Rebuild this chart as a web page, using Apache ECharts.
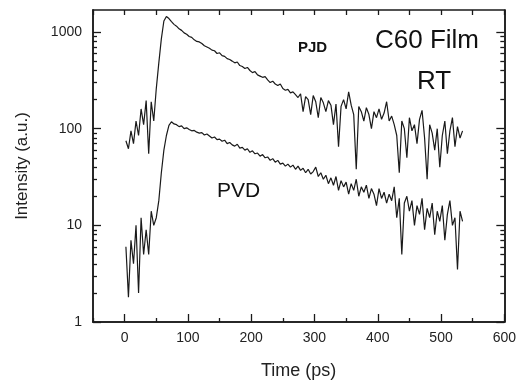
<!DOCTYPE html>
<html>
<head>
<meta charset="utf-8">
<script src="https://cdn.jsdelivr.net/npm/echarts@6/dist/echarts.min.js"></script>
<style>
  html, body { margin: 0; padding: 0; background: #fff; }
  #main { width: 519px; height: 385px; }
</style>
</head>
<body>
<div id="main"></div>
<script>
// sample times (ps), one reading every 4 ps
var timePs = [
  2, 6, 10, 14, 18, 22, 26, 30, 34, 38, 42, 46, 50, 54, 58, 62, 66, 70, 74, 78, 82, 86, 90, 94, 98,
  102, 106, 110, 114, 118, 122, 126, 130, 134, 138, 142, 146, 150, 154, 158, 162, 166, 170, 174, 178, 182, 186, 190, 194, 198,
  202, 206, 210, 214, 218, 222, 226, 230, 234, 238, 242, 246, 250, 254, 258, 262, 266, 270, 274, 278, 282, 286, 290, 294, 298,
  302, 306, 310, 314, 318, 322, 326, 330, 334, 338, 342, 346, 350, 354, 358, 362, 366, 370, 374, 378, 382, 386, 390, 394, 398,
  402, 406, 410, 414, 418, 422, 426, 430, 434, 438, 442, 446, 450, 454, 458, 462, 466, 470, 474, 478, 482, 486, 490, 494, 498,
  502, 506, 510, 514, 518, 522, 526, 530, 534
];

// PJD film (upper trace)
var pjdIntensity = [
  75, 62, 95, 70, 120, 85, 160, 110, 195, 55, 190, 120, 260, 480, 850, 1300, 1450, 1380, 1280, 1200, 1150, 1080, 1040, 980, 950,
  900, 880, 830, 800, 790, 760, 720, 700, 680, 650, 640, 600, 610, 570, 560, 530, 520, 500, 480, 490, 450, 440, 420, 430, 400,
  380, 390, 360, 350, 340, 345, 320, 300, 310, 290, 280, 290, 260, 250, 255, 235, 240, 225, 210, 230, 150, 215, 200, 140, 220,
  190, 130, 210, 185, 150, 195, 175, 110, 180, 65, 170, 200, 160, 240, 175, 140, 38, 170, 150, 120, 165, 140, 100, 150, 130,
  160, 125, 145, 190, 120, 135, 110, 85, 35, 120, 100, 50, 130, 95, 110, 70, 125, 155, 80, 30, 110, 90, 60, 100, 40,
  85, 120, 55, 95, 130, 65, 105, 80, 95
];

// PVD film (lower trace)
var pvdIntensity = [
  6, 1.8, 7, 4, 10, 2, 12, 5, 9, 5, 14, 10, 12, 18, 35, 60, 85, 108, 118, 112, 110, 105, 107, 100, 102,
  98, 95, 96, 92, 90, 91, 86, 88, 84, 80, 82, 77, 78, 74, 76, 70, 72, 68, 66, 69, 63, 64, 60, 62, 57,
  59, 55, 56, 52, 54, 50, 51, 47, 49, 45, 47, 43, 44, 41, 43, 40, 42, 38, 41, 37, 39, 35, 38, 34, 36,
  40, 32, 35, 30, 33, 27, 31, 26, 32, 23, 29, 25, 28, 21, 27, 23, 30, 20, 25, 22, 26, 19, 24, 21, 16,
  24, 19, 22, 17, 21, 18, 25, 12, 19, 5, 17, 20, 14, 18, 10, 16, 13, 19, 9, 15, 12, 17, 8, 14, 11,
  16, 7, 13, 18, 10, 12, 3.5, 14, 11
];

var xTickLabels = [0, 100, 200, 300, 400, 500, 600];
var xMinorTicks = [-50, 50, 150, 250, 350, 450, 550];
var yTickLabels = [1, 10, 100, 1000];

// 2..9 inside every decade
var yMinorTicks = [];
[1, 10, 100].forEach(function (d) {
  for (var k = 2; k <= 9; k++) yMinorTicks.push(k * d);
});

var ink = '#1a1a1a';
var font = 'Liberation Sans';

function pairs(ys) {
  return timePs.map(function (t, i) { return [t, ys[i]]; });
}

function xAx(pos, ticks, len, withLabels) {
  var a = {
    type: 'value', min: -50, max: 600, position: pos,
    axisLine: { show: true, onZero: false, lineStyle: { color: ink, width: 1.5 } },
    axisTick: { show: true, inside: true, length: len, customValues: ticks, lineStyle: { color: ink, width: 1.3 } },
    axisLabel: { show: false },
    splitLine: { show: false }
  };
  if (withLabels) {
    a.axisLabel = { show: true, customValues: xTickLabels, color: '#222', fontFamily: font, fontSize: 14, margin: 9 };
    a.name = 'Time (ps)';
    a.nameLocation = 'middle';
    a.nameGap = 40;
    a.nameTextStyle = { color: '#222', fontFamily: font, fontSize: 18 };
  }
  return a;
}

function yAx(pos, ticks, len, withLabels) {
  var a = {
    type: 'log', logBase: 10, min: 1, max: 1690, position: pos,
    axisLine: { show: true, onZero: false, lineStyle: { color: ink, width: 1.5 } },
    axisTick: { show: true, inside: true, length: len, customValues: ticks, lineStyle: { color: ink, width: 1.3 } },
    axisLabel: { show: false },
    splitLine: { show: false }
  };
  if (withLabels) {
    a.axisLabel = {
      show: true, customValues: yTickLabels, color: '#222', fontFamily: font, fontSize: 14, margin: 11,
      formatter: function (v) { return String(Math.round(v)); }
    };
    a.name = 'Intensity (a.u.)';
    a.nameLocation = 'middle';
    a.nameGap = 62;
    a.nameTextStyle = { color: '#222', fontFamily: font, fontSize: 17 };
  }
  return a;
}

var chart = echarts.init(document.getElementById('main'));
chart.setOption({
  animation: false,
  backgroundColor: '#fff',
  grid: { left: 93, right: 14, top: 10, bottom: 62 },
  xAxis: [
    xAx('bottom', xTickLabels, 8, true),
    xAx('bottom', xMinorTicks, 4, false),
    xAx('top', xTickLabels.concat(xMinorTicks), 5, false)
  ],
  yAxis: [
    yAx('left', yTickLabels, 8, true),
    yAx('left', yMinorTicks, 4, false),
    yAx('right', yTickLabels, 8, false),
    yAx('right', yMinorTicks, 4, false)
  ],
  series: [
    {
      name: 'PJD', type: 'line', data: pairs(pjdIntensity), showSymbol: false,
      lineStyle: { color: ink, width: 1.2 }
    },
    {
      name: 'PVD', type: 'line', data: pairs(pvdIntensity), showSymbol: false,
      lineStyle: { color: ink, width: 1.2 }
    }
  ],
  graphic: [
    { type: 'text', left: 298, top: 40, style: { text: 'PJD', fill: '#111', font: 'bold 15px "Liberation Sans"' } },
    { type: 'text', left: 375, top: 28, style: { text: 'C60 Film', fill: '#111', font: '26px "Liberation Sans"' } },
    { type: 'text', left: 417, top: 69, style: { text: 'RT', fill: '#111', font: '26px "Liberation Sans"' } },
    { type: 'text', left: 217, top: 181, style: { text: 'PVD', fill: '#111', font: '21px "Liberation Sans"' } }
  ]
});
</script>
</body>
</html>
